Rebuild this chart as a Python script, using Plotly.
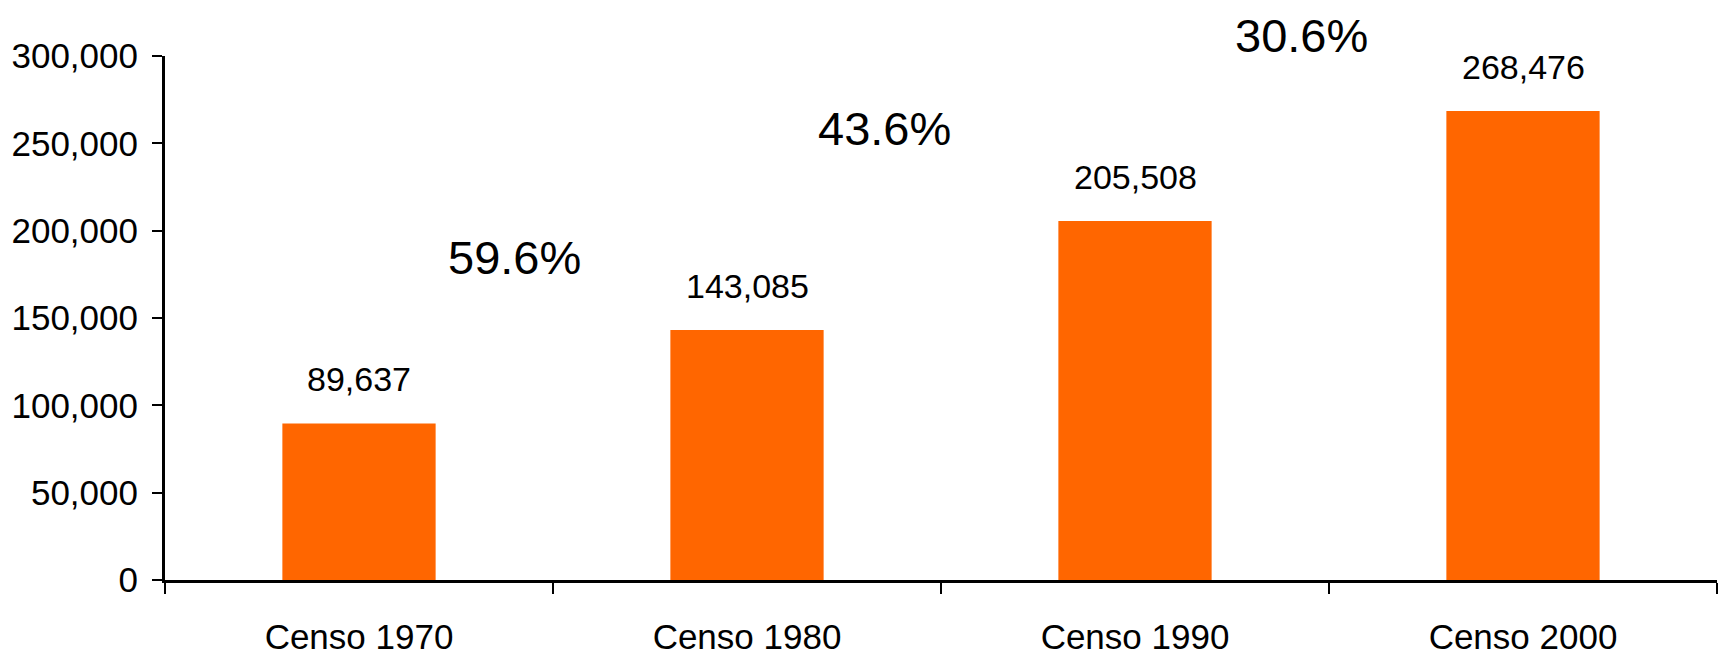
import plotly.graph_objects as go

CATEGORIES = ["Censo 1970", "Censo 1980", "Censo 1990", "Censo 2000"]
POPULATION = [89637, 143085, 205508, 268476]
GROWTH_LABELS = ["59.6%", "43.6%", "30.6%"]

Y_TICKS = [0, 50000, 100000, 150000, 200000, 250000, 300000]
Y_MAX = 300000

# where the growth labels sit (category index, axis units)
GROWTH_POS = [(0.40, 184500), (1.355, 258500), (2.43, 312000)]

FONT = "Liberation Sans, Arial, sans-serif"
ORANGE = "#ff6600"

fig = go.Figure()
fig.add_trace(
    go.Bar(
        x=CATEGORIES,
        y=POPULATION,
        marker=dict(color=ORANGE, line=dict(width=0)),
        hovertemplate="%{x}: %{y:,}<extra></extra>",
    )
)

annotations = []
for cat, v in zip(CATEGORIES, POPULATION):
    annotations.append(
        dict(
            x=cat, y=v, xref="x", yref="y",
            text=f"{v:,}",
            showarrow=False,
            yanchor="middle",
            yshift=44,
            font=dict(family=FONT, size=34, color="black"),
        )
    )
for lab, (px, py) in zip(GROWTH_LABELS, GROWTH_POS):
    # paper y so the top label can sit above the plot area
    annotations.append(
        dict(
            x=px, y=py / Y_MAX, xref="x", yref="paper",
            text=lab,
            showarrow=False,
            yanchor="middle",
            borderpad=0,
            font=dict(family=FONT, size=47, color="black"),
        )
    )

# page body adds an 8px offset, margins account for it
fig.update_layout(
    width=1729,
    height=663,
    margin=dict(l=157, r=20, t=48, b=91),
    paper_bgcolor="white",
    plot_bgcolor="white",
    bargap=0.605,
    showlegend=False,
    font=dict(family=FONT, color="black"),
    annotations=annotations,
    xaxis=dict(
        type="category",
        tickson="boundaries",
        ticks="outside",
        ticklen=11,
        tickwidth=2,
        tickcolor="black",
        showline=True,
        linecolor="black",
        linewidth=3,
        showgrid=False,
        zeroline=False,
        automargin=False,
        tickfont=dict(family=FONT, size=35, color="black"),
        ticklabelstandoff=24,
    ),
    yaxis=dict(
        range=[0, Y_MAX],
        tickmode="array",
        tickvals=Y_TICKS,
        tickformat=",",
        ticks="outside",
        ticklen=10,
        tickwidth=2,
        tickcolor="black",
        showline=True,
        linecolor="black",
        linewidth=3,
        showgrid=False,
        zeroline=False,
        automargin=False,
        tickfont=dict(family=FONT, size=35, color="black"),
        ticklabelstandoff=7,
    ),
)

fig.write_html("out.html")
